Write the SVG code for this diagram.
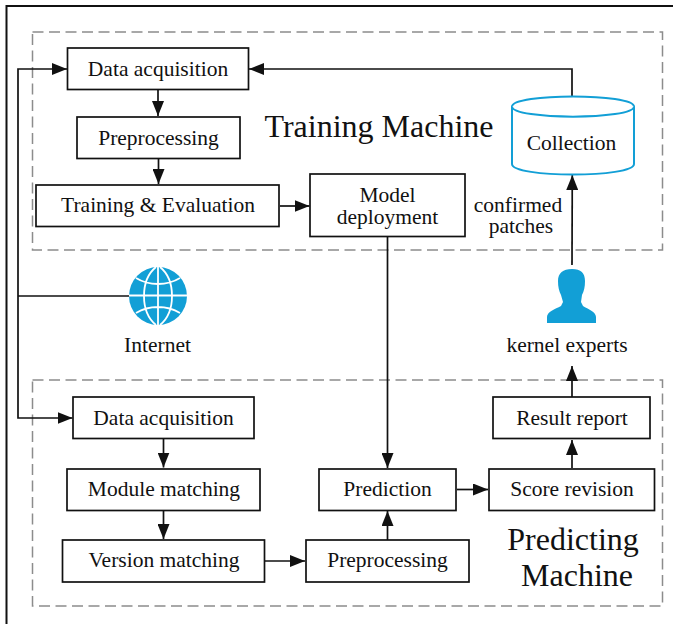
<svg xmlns="http://www.w3.org/2000/svg" width="673" height="624" viewBox="0 0 673 624">
<style>
text{font-family:"Liberation Serif","Times New Roman",serif;fill:#111;text-anchor:middle}
.l{font-size:21.5px}
.t{font-size:32px}
.b{fill:#fff;stroke:#111;stroke-width:1.7}
.d{fill:none;stroke:#8c8c8c;stroke-width:1.5;stroke-dasharray:11 5.5}
.c{fill:none;stroke:#111;stroke-width:1.7}
.a{marker-end:url(#ah)}
.blue{fill:#129fd6}
.cyl{fill:#fff;stroke:#129fd6;stroke-width:2}
.g{fill:none;stroke:#fff;stroke-width:1.8}
</style>
<defs>
<marker id="ah" markerUnits="userSpaceOnUse" markerWidth="15" markerHeight="12" refX="15" refY="6" orient="auto"><path d="M0 0L15 6L0 12Z" fill="#111"/></marker>
</defs>
<rect width="673" height="624" fill="#fff"/>
<path id="frame" d="M6.500 624V6H673" fill="none" stroke="#111" stroke-width="2"/>
<rect id="training-region" class="d" x="32.500" y="32" width="630" height="218"/>
<rect id="predicting-region" class="d" x="32.500" y="380" width="630" height="226"/>
<g id="connectors">
<path class="c a" d="M18 296V69H67"/>
<path class="c a" d="M18 296V418H72.500"/>
<path class="c" d="M18 296H130"/>
<path class="c a" d="M572 97V69H249"/>
<path class="c a" d="M158 90V116"/>
<path class="c a" d="M158.500 159V184"/>
<path class="c a" d="M280 206H309.500"/>
<path class="c a" d="M387.500 237V468"/>
<path class="c a" d="M572 265L572.300 175"/>
<path class="c a" d="M163.500 439V467.500"/>
<path class="c a" d="M163.500 510V539"/>
<path class="c a" d="M265 561H305"/>
<path class="c a" d="M387.500 540V511"/>
<path class="c a" d="M457 489.500H488"/>
<path class="c a" d="M572 468V440"/>
<path class="c a" d="M572 397V366"/>
</g>
<g id="n-data1"><rect class="b" x="67.500" y="48" width="181" height="41.500"/><text class="l" x="158" y="75.500">Data acquisition</text></g>
<g id="n-pre1"><rect class="b" x="77" y="117" width="163" height="41.500"/><text class="l" x="158.500" y="144.500">Preprocessing</text></g>
<g id="n-train"><rect class="b" x="36" y="185" width="243" height="41.500"/><text class="l" x="158" y="212">Training &amp; Evaluation</text></g>
<g id="n-model"><rect class="b" x="310" y="174" width="155" height="62.500"/><text class="l" x="387.500" y="202">Model</text><text class="l" x="387.500" y="223.500">deployment</text></g>
<g id="n-collection"><path class="cyl" d="M512 106.500C512 93 634 93 634 106.500V164C634 178 512 178 512 164Z"/><path class="cyl" fill="none" d="M512 106.500C512 120 634 120 634 106.500"/><text class="l" x="571.500" y="150">Collection</text></g>
<text class="t" x="379" y="137">Training Machine</text>
<text class="l" x="518" y="211.500">confirmed</text>
<text class="l" x="521" y="232.500">patches</text>
<g id="n-internet"><circle class="blue" cx="158" cy="296" r="29"/><path class="g" d="M129 295.500H187M158 267V325M156 267C140 280 140 312 156 325M160 267C176 280 176 312 160 325M136 278C149 286 167 286 180 278M136 313C149 305 167 305 180 313"/><text class="l" x="157.500" y="351.500">Internet</text></g>
<g id="n-experts"><path class="blue" d="M572 269C581 269 585 273 585 281C585 287 584 291 582 295L581 302L583 306C588 309 596 312 596 317V323H547V317C547 312 555 309 561 306L563 302L561 295C559 291 558 287 558 281C558 273 563 269 572 269Z"/><text class="l" x="567" y="351.500">kernel experts</text></g>
<g id="n-data2"><rect class="b" x="73" y="397" width="181" height="41.500"/><text class="l" x="163.500" y="425">Data acquisition</text></g>
<g id="n-module"><rect class="b" x="67" y="469" width="193" height="41.500"/><text class="l" x="164" y="496">Module matching</text></g>
<g id="n-version"><rect class="b" x="62.500" y="540" width="202" height="42"/><text class="l" x="164" y="567">Version matching</text></g>
<g id="n-pre2"><rect class="b" x="306" y="540" width="163" height="42"/><text class="l" x="387.500" y="567">Preprocessing</text></g>
<g id="n-pred"><rect class="b" x="319" y="469" width="137" height="41.500"/><text class="l" x="387.500" y="496">Prediction</text></g>
<g id="n-score"><rect class="b" x="489" y="469" width="165.500" height="41.500"/><text class="l" x="572" y="496">Score revision</text></g>
<g id="n-result"><rect class="b" x="493" y="397" width="157" height="41.500"/><text class="l" x="572" y="425">Result report</text></g>
<text class="t" x="573" y="550">Predicting</text>
<text class="t" x="577" y="586">Machine</text>
</svg>
